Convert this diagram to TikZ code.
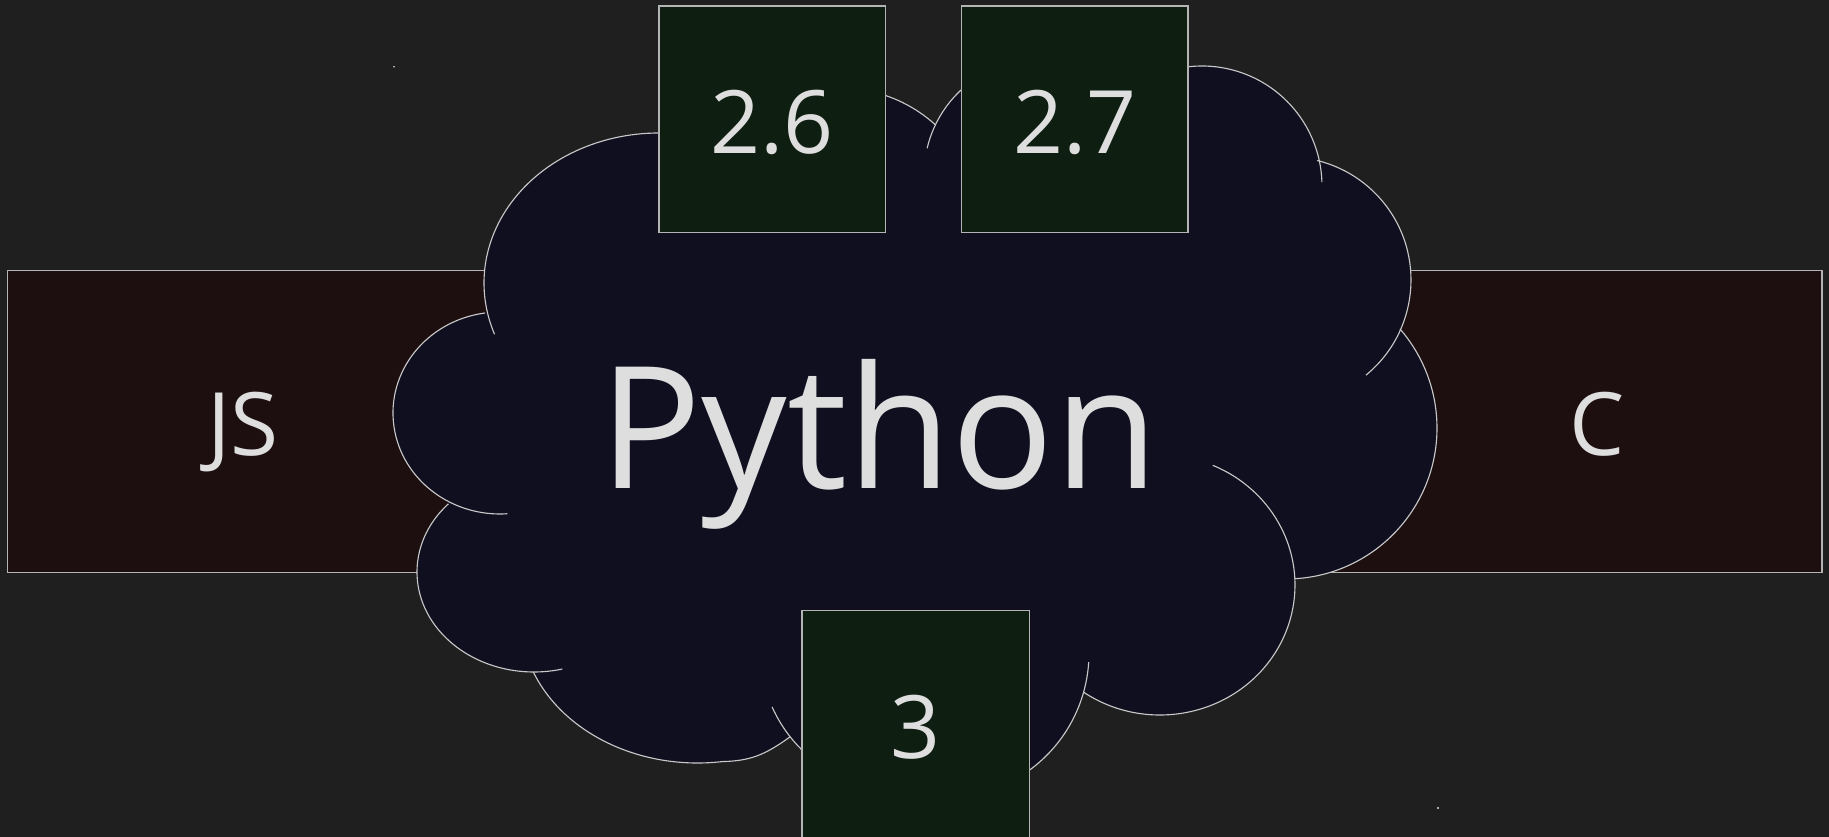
\documentclass[tikz,border=0pt]{standalone}
\usepackage{fontspec}
\setmainfont{Open Sans}
\definecolor{bg}{HTML}{1F1F1F}
\definecolor{cloudfill}{HTML}{0F0F20}
\definecolor{redfill}{HTML}{1D0F0F}
\definecolor{greenfill}{HTML}{0E1E11}
\definecolor{boxedge}{HTML}{B4B4B4}
\definecolor{cloudedge}{HTML}{C8C8C8}
\definecolor{txt}{HTML}{DEDEDE}
\begin{document}
\begin{tikzpicture}[x=0.4pt,y=-0.4pt,
  redbox/.style={fill=redfill, draw=boxedge, line width=0.55pt},
  greenbox/.style={fill=greenfill, draw=boxedge, line width=0.55pt},
  cloudline/.style={draw=cloudedge, line width=0.45pt},
  lbl/.style={text=txt, inner sep=0pt, anchor=base, font=\fontsize{35}{42}\selectfont},
  biglbl/.style={text=txt, inner sep=0pt, anchor=base, font=\fontsize{68}{80}\selectfont}]
\fill[bg] (0,0) rectangle (1829,837);
\useasboundingbox (0,0) rectangle (1829,837);
\clip (0,0) rectangle (1829,837);

% side boxes
\path[redbox] (7.5,270.7) rectangle (620,572.7);
\path[redbox] (1100,270.7) rectangle (1822,572.7);
\node[lbl] (js) at (243,455.7) {JS};
\node[lbl] (c) at (1597,456) {C};

% cloud centres
\coordinate (E1) at (659,283);
\coordinate (E2) at (500,413);
\coordinate (E3) at (534,572);
\coordinate (E4) at (697.6,618);
\coordinate (E5) at (900,650);
\coordinate (E6) at (944,653);
\coordinate (E7) at (1160,585);
\coordinate (E8) at (1286,428);
\coordinate (E9) at (1288,280);
\coordinate (E10) at (1202,186);
\coordinate (E11) at (840,230);
\coordinate (E12) at (1040,175);

\path (E1) ++(272:175 and 150) coordinate (s1);
\path (E2) ++(262:107 and 101) coordinate (s2);
\path (E3) ++(223:117 and 100) coordinate (s3);
\path (E4) ++(158:177 and 145) coordinate (s4);
\path (E5) ++(141.7:140 and 140) coordinate (s5);
\path (E6) ++(60:145 and 145) coordinate (s6);
\path (E7) ++(124.3:135 and 130) coordinate (s7);
\path (E8) ++(86.6:151 and 151) coordinate (s8);
\path (E9) ++(23.8:123 and 123) coordinate (s9);
\path (E10) ++(347.3:120 and 120) coordinate (s10);
\path (E12) ++(235:116 and 116) coordinate (s12);
\path (E11) ++(-47.8:142 and 142) coordinate (s11);
\coordinate (k1) at (750,761);
\coordinate (k2) at (765,755);

% cloud fill
\fill[cloudfill] (s1) arc[start angle=272,end angle=169,x radius=175,y radius=150]
 -- (s2) arc[start angle=262,end angle=121,x radius=107,y radius=101]
 -- (s3) arc[start angle=223,end angle=90,x radius=117,y radius=100]
 -- (s4) arc[start angle=158,end angle=82,x radius=177,y radius=145]
 .. controls (k1) and (k2) .. (s5)
 arc[start angle=141.7,end angle=125,x radius=140,y radius=140]
 -- (s6) arc[start angle=60,end angle=17.3,x radius=145,y radius=145]
 -- (s7) arc[start angle=124.3,end angle=-1.5,x radius=135,y radius=130]
 -- (s8) arc[start angle=86.6,end angle=-41,x radius=151,y radius=151]
 -- (s9) arc[start angle=23.8,end angle=-76.3,x radius=123,y radius=123]
 -- (s10) arc[start angle=347.3,end angle=260,x radius=120,y radius=120]
 -- (s12) arc[start angle=235,end angle=206.1,x radius=116,y radius=116]
 -- (s11) arc[start angle=-47.8,end angle=-80,x radius=142,y radius=142]
 -- cycle;

% cloud outline arcs
\draw[cloudline] (s1) arc[start angle=272,end angle=160,x radius=175,y radius=150];
\draw[cloudline] (s2) arc[start angle=262,end angle=86,x radius=107,y radius=101];
\draw[cloudline] (s3) arc[start angle=223,end angle=76,x radius=117,y radius=100];
\draw[cloudline] (s4) arc[start angle=158,end angle=82,x radius=177,y radius=145]
 .. controls (k1) and (k2) .. (s5);
\draw[cloudline] (E5) ++(156:140 and 140) arc[start angle=156,end angle=125,x radius=140,y radius=140];
\draw[cloudline] (s6) arc[start angle=60,end angle=3.6,x radius=145,y radius=145];
\draw[cloudline] (s7) arc[start angle=124.3,end angle=-67,x radius=135,y radius=130];
\draw[cloudline] (s8) arc[start angle=86.6,end angle=-41,x radius=151,y radius=151];
\draw[cloudline] (E9) ++(50.7:123 and 123) arc[start angle=50.7,end angle=-76.3,x radius=123,y radius=123];
\draw[cloudline] (E10) ++(358.2:120 and 120) arc[start angle=358.2,end angle=260,x radius=120,y radius=120];
\draw[cloudline] (s12) arc[start angle=235,end angle=193.3,x radius=116,y radius=116];
\draw[cloudline] (s11) arc[start angle=-47.8,end angle=-80,x radius=142,y radius=142];

\node[biglbl] (py) at (879,489) {Python};

% version boxes
\path[greenbox] (659,6) rectangle (885.7,232.7);
\path[greenbox] (961.4,6) rectangle (1188,232.7);
\path[greenbox] (802,610.7) rectangle (1029.5,838.5);
\node[lbl] (v26) at (772.3,153.7) {2.6};
\node[lbl] (v27) at (1074.7,153.7) {2.7};
\node[lbl] (v3) at (915.7,758.3) {3};

% stray dots
\fill[txt] (394,66.7) circle[radius=0.9];
\fill[txt] (1438,808) circle[radius=1.2];
\end{tikzpicture}
\end{document}
